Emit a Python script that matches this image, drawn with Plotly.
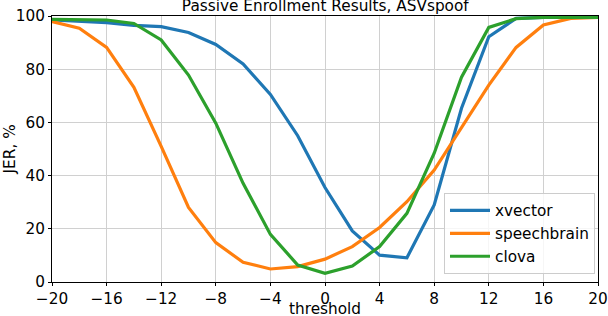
import plotly.graph_objects as go

thresholds = list(range(-20, 21, 2))
xvector = [98.5, 98, 97.5, 96.5, 96, 93.8, 89.3, 82, 70.5, 55, 35.5, 19.2, 10.1, 9.1, 29, 65.3, 92.2, 99.1, 99.5, 99.5, 99.5]
speechbrain = [97.9, 95.4, 88.2, 73.2, 51, 28, 14.8, 7.4, 4.9, 5.8, 8.6, 13.3, 20.5, 30.2, 42.1, 58, 74, 88.2, 96.6, 99.1, 99.5]
clova = [98.7, 98.7, 98.5, 97.2, 91, 77.8, 59.7, 37.1, 17.9, 6.4, 3.3, 6, 13.3, 25.8, 48.4, 77, 95.7, 99, 99.5, 99.5, 99.5]

series = [("xvector", xvector, "#1f77b4"), ("speechbrain", speechbrain, "#ff7f0e"), ("clova", clova, "#2ca02c")]

fig = go.Figure()
for name, ys, col in series:
    fig.add_trace(go.Scatter(x=thresholds, y=ys, mode="lines", name=name,
                             line=dict(color=col, width=3.2)))

font = "DejaVu Sans"
fs = 15.3
fig.update_layout(
    width=608, height=316,
    margin=dict(l=52, r=10, t=16, b=34, autoexpand=False),
    paper_bgcolor="white", plot_bgcolor="white",
    font=dict(family=font, size=fs, color="black"),
    title=dict(text="Passive Enrollment Results, ASVspoof", x=0.535, xanchor="center",
               y=0.9813, yanchor="middle", font=dict(size=fs), automargin=False),
    legend=dict(x=0.9945, xanchor="right", y=0.03, yanchor="bottom",
                bgcolor="rgba(255,255,255,0.8)", bordercolor="#cccccc", borderwidth=1,
                font=dict(size=fs), tracegroupgap=0, itemwidth=40),
    annotations=[
        dict(text="threshold", xref="paper", yref="paper", x=0.5, y=-0.1004,
             xanchor="center", yanchor="middle", showarrow=False, font=dict(size=fs)),
        dict(text="JER, %", xref="paper", yref="paper", x=-0.0762, y=0.5, textangle=-90,
             xanchor="center", yanchor="middle", showarrow=False, font=dict(size=fs)),
    ],
)
fig.update_xaxes(range=[-20, 20], tickvals=list(range(-20, 21, 4)), showgrid=True,
                 gridcolor="#d0d0d0", gridwidth=1, showline=True, linecolor="black",
                 linewidth=1, mirror=True, ticks="outside", ticklen=3, tickcolor="black",
                 zeroline=False, automargin=False, ticklabeloverflow="allow",
                 tickfont=dict(size=fs))
fig.update_yaxes(range=[0, 100], tickvals=list(range(0, 101, 20)), showgrid=True,
                 gridcolor="#d0d0d0", gridwidth=1, showline=True, linecolor="black",
                 linewidth=1, mirror=True, ticks="outside", ticklen=3, tickcolor="black",
                 zeroline=False, automargin=False, ticklabeloverflow="allow",
                 tickfont=dict(size=fs))
fig.write_html("out.html", config={"displayModeBar": False},
               post_script="document.body.style.margin='0px';")
